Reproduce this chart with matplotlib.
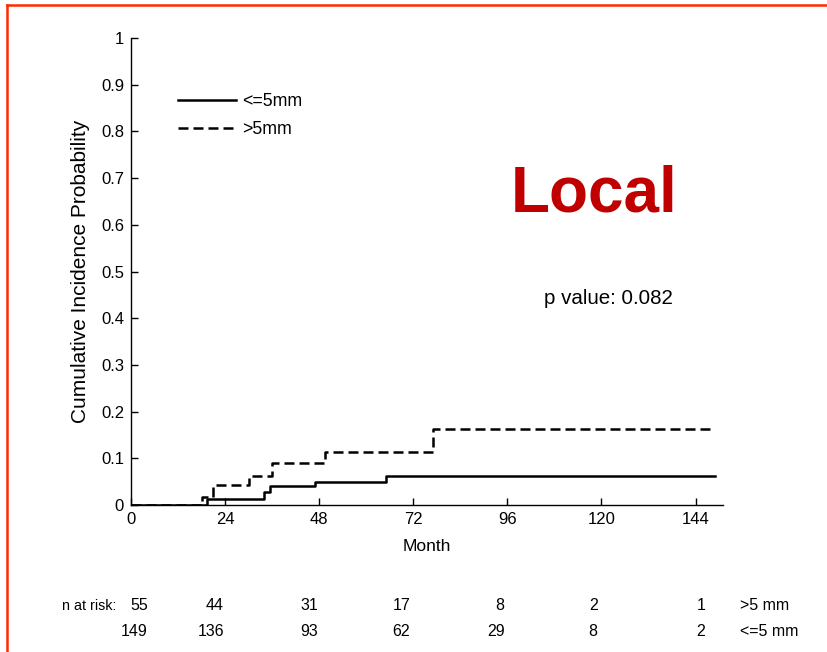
import matplotlib
matplotlib.use("Agg")
import matplotlib.pyplot as plt
from matplotlib.lines import Line2D

plt.rcParams['font.family'] = ['Liberation Sans', 'DejaVu Sans']

# Data
small_times = [0, 19.5, 34, 35.5, 47, 65, 149]
small_vals = [0, 0.012, 0.027, 0.040, 0.049, 0.063, 0.063]
large_times = [0, 18, 21, 30, 36, 49.5, 77, 149]
large_vals = [0, 0.018, 0.043, 0.062, 0.089, 0.114, 0.163, 0.163]

risk_times = [0, 24, 48, 72, 96, 120, 144]
risk_large = [55, 44, 31, 17, 8, 2, 1]
risk_small = [149, 136, 93, 62, 29, 8, 2]
risk_label_x = [4.3, 23.7, 47.7, 71.2, 95.3, 119.0, 146.5]

xticks = [0, 24, 48, 72, 96, 120, 144]
yticks = [0, 0.1, 0.2, 0.3, 0.4, 0.5, 0.6, 0.7, 0.8, 0.9, 1]
ytick_labels = ['0', '0.1', '0.2', '0.3', '0.4', '0.5', '0.6', '0.7', '0.8', '0.9', '1']

W, H = 827, 652
fig = plt.figure(figsize=(W / 100, H / 100), dpi=100)
ax = fig.add_axes([131 / W, 1 - 505 / H, (723 - 131) / W, (505 - 38) / H])

ax.step(small_times, small_vals, where='post', color='black', lw=1.8, label='<=5mm')
ax.step(large_times, large_vals, where='post', color='black', lw=1.8,
        dashes=(4, 2), label='>5mm')

ax.set_xlim(0, 151)
ax.set_ylim(0, 1)
ax.set_xticks(xticks)
ax.set_yticks(yticks)
ax.set_yticklabels(ytick_labels)
ax.tick_params(direction='in', length=5, width=1, labelsize=12, pad=5)
for s in ['top', 'right']:
    ax.spines[s].set_visible(False)
for s in ['left', 'bottom']:
    ax.spines[s].set_linewidth(1)

ax.set_xlabel('Month', fontsize=12.5, labelpad=9)
ax.set_ylabel('Cumulative Incidence Probability', fontsize=15, labelpad=8)

ax.legend(loc='upper left', bbox_to_anchor=(0.079, 0.882), frameon=False,
          handlelength=3.3, handletextpad=0.3, labelspacing=0.6,
          borderpad=0, borderaxespad=0, fontsize=12.8)

fig.text(594 / W, 1 - 194 / H, 'Local', color='#C00000', fontsize=46,
         fontweight='bold', ha='center', va='center')
fig.text(608 / W, 1 - 298 / H, 'p value: 0.082', fontsize=14.8,
         ha='center', va='center')

# at-risk table
fs = 11.5
y1 = 1 - 606 / H
y2 = 1 - 631 / H
fig.text(116 / W, y1, 'n at risk:', fontsize=10.3, ha='right', va='center')
for xv, a, b in zip(risk_label_x, risk_large, risk_small):
    xf = (131 + xv * 592 / 151) / W
    fig.text(xf, y1, str(a), fontsize=fs, ha='right', va='center')
    fig.text(xf, y2, str(b), fontsize=fs, ha='right', va='center')
fig.text(740 / W, y1, '>5 mm', fontsize=fs, ha='left', va='center')
fig.text(740 / W, y2, '<=5 mm', fontsize=fs, ha='left', va='center')

# slide border (top and left)
red = '#FF2A00'
fig.add_artist(Line2D([7 / W, 1], [1 - 5 / H, 1 - 5 / H], color=red, lw=1.8,
                      transform=fig.transFigure))
fig.add_artist(Line2D([7 / W, 7 / W], [0, 1 - 5 / H], color=red, lw=1.8,
                      transform=fig.transFigure))

fig.savefig('out.png', dpi=100)
